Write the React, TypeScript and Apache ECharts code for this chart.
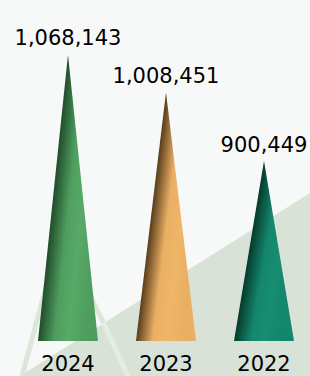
import React, { useEffect, useRef } from "react";
import * as echarts from "echarts";

const categories = ["2024", "2023", "2022"];
const values = [1068143, 1008451, 900449];
const darkColors = ["#1c4526", "#4b3214", "#043326"];
const mainColors = ["#4f9e5f", "#e9af63", "#14866c"];
const lightColors = ["#58aa68", "#efb667", "#178d72"];

const FONT = "DejaVu Sans";
const Y_MIN = 617000;
const Y_MAX = 1107000;

export default function App() {
  const ref = useRef<HTMLDivElement>(null);
  useEffect(() => {
    if (!ref.current) return;
    const chart = echarts.init(ref.current, undefined, { renderer: "svg" });
    const data = values.map((v, i) => [i, v]);
    chart.setOption({
      animation: false,
      backgroundColor: "#f7f8f8",
      graphic: [
        {
          type: "polygon",
          silent: true,
          z: -10,
          shape: { points: [[310, 193], [310, 376], [20, 376]] },
          style: { fill: "#d9e2d7" },
        },
        {
          type: "line",
          silent: true,
          z: -9,
          shape: { x1: 50.6, y1: 270, x2: 22, y2: 376 },
          style: { stroke: "#dde6da", lineWidth: 5 },
        },
        {
          type: "line",
          silent: true,
          z: -9,
          shape: { x1: 87.6, y1: 290, x2: 103.5, y2: 323 },
          style: { stroke: "#dde6da", lineWidth: 5 },
        },
        {
          type: "line",
          silent: true,
          z: -9,
          shape: { x1: 103.5, y1: 323, x2: 128, y2: 376 },
          style: { stroke: "#e6ece4", lineWidth: 5 },
        },
      ],
      grid: { left: 68, right: 46, top: 30, bottom: 35 },
      xAxis: {
        type: "category",
        data: categories,
        boundaryGap: false,
        axisLine: { show: false },
        axisTick: { show: false },
        splitLine: { show: false },
        axisLabel: {
          color: "#000",
          fontSize: 21,
          fontFamily: FONT,
          margin: 12,
        },
      },
      yAxis: {
        type: "value",
        min: Y_MIN,
        max: Y_MAX,
        show: false,
        splitLine: { show: false },
      },
      series: [
        {
          type: "custom",
          data,
          clip: false,
          renderItem: (params: any, api: any) => {
            const i = api.value(0);
            const v = api.value(1);
            const top = api.coord([i, v]);
            const base = api.coord([i, Y_MIN]);
            const w = 60;
            const idx = params.dataIndex;
            return {
              type: "group",
              children: [
                {
                  type: "polygon",
                  shape: {
                    points: [
                      [top[0], top[1]],
                      [top[0] + w / 2, base[1]],
                      [top[0] - w / 2, base[1]],
                    ],
                  },
                  style: {
                    fill: new echarts.graphic.LinearGradient(0, 0, 1, 0.5, [
                      { offset: 0, color: darkColors[idx] },
                      { offset: 0.38, color: darkColors[idx] },
                      { offset: 0.62, color: mainColors[idx] },
                      { offset: 0.8, color: lightColors[idx] },
                      { offset: 1, color: mainColors[idx] },
                    ]),
                  },
                },
                {
                  type: "text",
                  style: {
                    text: Number(v).toLocaleString("en-US"),
                    x: top[0],
                    y: top[1] - 6,
                    align: "center",
                    verticalAlign: "bottom",
                    fontSize: 21,
                    fontFamily: FONT,
                    fill: "#000",
                  },
                },
              ],
            };
          },
        },
      ],
    });
    return () => chart.dispose();
  }, []);
  return (
    <div
      ref={ref}
      style={{ position: "fixed", left: 0, top: 0, width: 310, height: 376 }}
    />
  );
}
